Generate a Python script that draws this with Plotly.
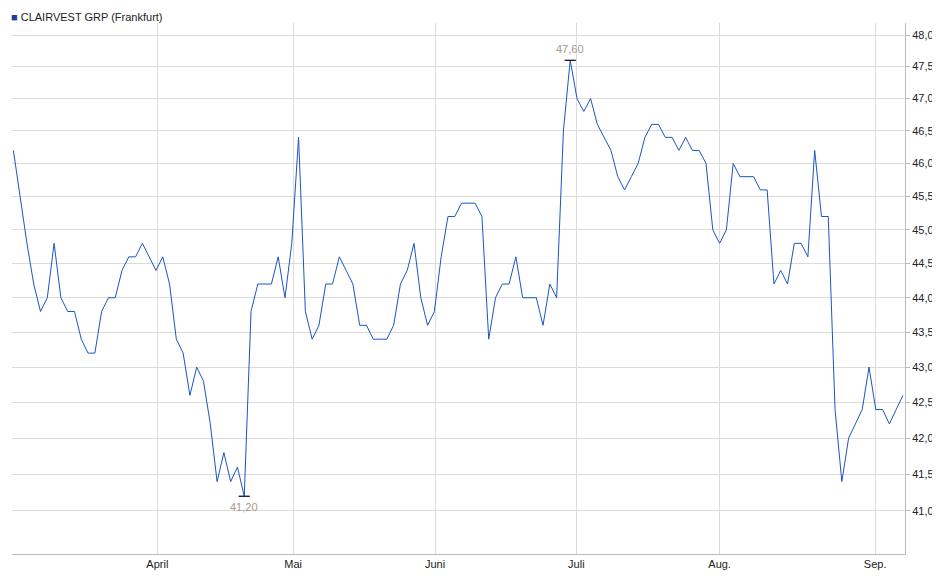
import math
import plotly.graph_objects as go

values = [46.2,45.5,44.8,44.2,43.8,44.0,44.8,44.0,43.8,43.8,
          43.4,43.2,43.2,43.8,44.0,44.0,44.4,44.6,44.6,44.8,
          44.6,44.4,44.6,44.2,43.4,43.2,42.6,43.0,42.8,42.2,
          41.4,41.8,41.4,41.6,41.2,43.8,44.2,44.2,44.2,44.6,
          44.0,44.8,46.4,43.8,43.4,43.6,44.2,44.2,44.6,44.4,
          44.2,43.6,43.6,43.4,43.4,43.4,43.6,44.2,44.4,44.8,
          44.0,43.6,43.8,44.6,45.2,45.2,45.4,45.4,45.4,45.2,
          43.4,44.0,44.2,44.2,44.6,44.0,44.0,44.0,43.6,44.2,
          44.0,46.5,47.6,47.0,46.8,47.0,46.6,46.4,46.2,45.8,
          45.6,45.8,46.0,46.4,46.6,46.6,46.4,46.4,46.2,46.4,
          46.2,46.2,46.0,45.0,44.8,45.0,46.0,45.8,45.8,45.8,
          45.6,45.6,44.2,44.4,44.2,44.8,44.8,44.6,46.2,45.2,
          45.2,42.4,41.4,42.0,42.2,42.4,43.0,42.4,42.4,42.2,
          42.4,42.6]
x_idx = list(range(len(values)))
month_pos = [21.2, 41.2, 62.1, 82.9, 104.0, 126.9]
month_labels = ["April", "Mai", "Juni", "Juli", "Aug.", "Sep."]
y_ticks = [41.0,41.5,42.0,42.5,43.0,43.5,44.0,44.5,45.0,45.5,46.0,46.5,47.0,47.5,48.0]
y_labels = [f"{v:.1f}".replace(".", ",") for v in y_ticks]

imin = values.index(min(values)); imax = values.index(max(values))

fig = go.Figure()
fig.add_trace(go.Scatter(x=x_idx, y=values, mode="lines",
                         line=dict(color="#1a56c4", width=1), hoverinfo="skip"))
fig.add_trace(go.Scatter(x=[imin, imax], y=[values[imin], values[imax]], mode="markers",
                         marker=dict(symbol="line-ew", size=8, line=dict(color="black", width=1.2)),
                         hoverinfo="skip"))
fig.add_annotation(x=imin, y=math.log10(values[imin]), text=f"{values[imin]:.2f}".replace(".", ","),
                   showarrow=False, yshift=-11, font=dict(color="#a89888", size=11))
fig.add_annotation(x=imax, y=math.log10(values[imax]), text=f"{values[imax]:.2f}".replace(".", ","),
                   showarrow=False, yshift=11, font=dict(color="#a89888", size=11))
fig.add_annotation(xref="paper", yref="paper", x=0, y=1, xanchor="left", yanchor="bottom",
                   text="<span style='color:#1a3f9c'>■</span> CLAIRVEST GRP (Frankfurt)",
                   showarrow=False, font=dict(size=11, color="#222"), xshift=-3, yshift=-2)

fig.update_layout(
    width=940, height=579, margin=dict(l=4, r=43, t=15, b=33, autoexpand=False),
    plot_bgcolor="white", paper_bgcolor="white", showlegend=False,
    font=dict(family="Liberation Sans, Arial, sans-serif", size=11, color="#222"),
    xaxis=dict(range=[-0.2, 131.3], tickvals=month_pos, ticktext=month_labels,
               showgrid=True, gridcolor="#dcdcdc", zeroline=False, automargin=False,
               showline=True, linecolor="#bbb", ticks="", mirror=False),
    yaxis=dict(type="log", side="right", range=[1.60659, 1.68297], automargin=False,
               tickvals=y_ticks, ticktext=y_labels, showgrid=True, gridcolor="#dcdcdc",
               showline=True, linecolor="#bbb", ticks="outside", ticklen=4, tickcolor="#bbb",
               zeroline=False),
)
fig.write_html("out.html")
